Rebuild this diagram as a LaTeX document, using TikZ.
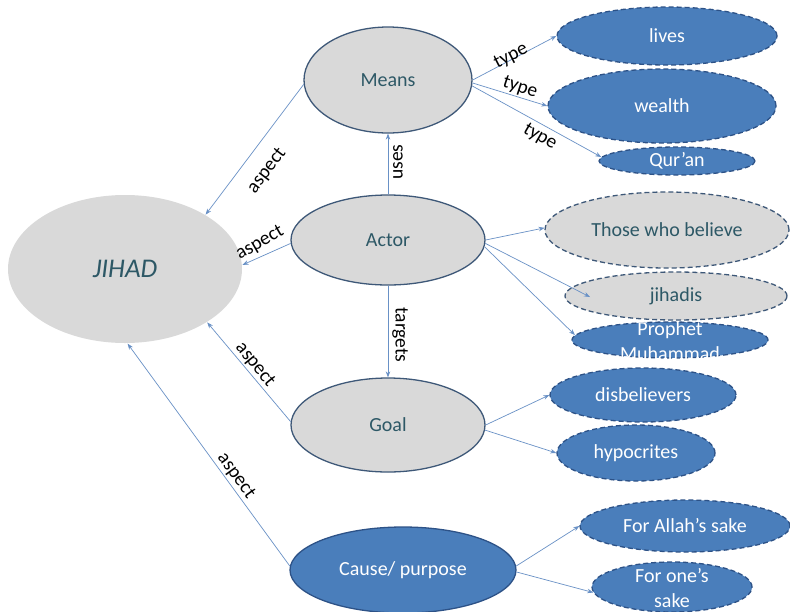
\documentclass[tikz,border=0pt]{standalone}
\usepackage{fontspec}
\setmainfont{Carlito}
\usetikzlibrary{shapes.geometric,arrows.meta}
\definecolor{grayfill}{RGB}{217,217,217}
\definecolor{bluefill}{RGB}{74,126,187}
\definecolor{blueline}{RGB}{45,82,135}
\definecolor{grayline}{RGB}{62,88,120}
\definecolor{txtteal}{RGB}{45,88,102}
\definecolor{edgecol}{RGB}{105,145,198}
\begin{document}
\begin{tikzpicture}[x=1pt,y=-1pt,
  ell/.style={ellipse, inner sep=0pt, line width=1.3pt},
  nodefont/.style={font=\fontsize{20}{25}\selectfont},
  graynode/.style={ell, fill=grayfill, draw=grayline, text=txtteal, nodefont},
  graydash/.style={graynode, dash pattern=on 5pt off 3pt},
  bluesolid/.style={ell, fill=bluefill, draw=blueline, text=white, nodefont},
  bluedash/.style={bluesolid, dash pattern=on 5pt off 3pt},
  bluetext/.style={text=white, nodefont, align=center, inner sep=0pt},
  arr/.style={draw=edgecol, line width=0.7pt, -{Stealth[length=6pt,width=4.5pt]}},
  lbl/.style={font=\fontsize{19.5}{20}\selectfont, text=black, inner sep=0pt}
]
\fill[white] (0,0) rectangle (790,611);
\useasboundingbox (0,0) rectangle (790,611);

% main nodes
\node[graynode, draw=none, minimum width=234pt, minimum height=148pt,
      font=\fontsize{27}{30}\selectfont\itshape] (jihad) at (125,269) {JIHAD};
\node[graynode, minimum width=168pt, minimum height=106pt] (means) at (388,80) {Means};
\node[graynode, minimum width=194pt, minimum height=90pt] (actor) at (388,240) {Actor};
\node[graynode, minimum width=194pt, minimum height=94pt] (goal) at (388,425) {Goal};
\node[bluesolid, minimum width=226pt, minimum height=86pt] (cause) at (403,570) {Cause/ purpose};

% right column
\node[bluedash, minimum width=220pt, minimum height=58pt] (lives) at (667,36) {lives};
\node[bluedash, minimum width=228pt, minimum height=74pt] (wealth) at (662,106) {wealth};
\node[bluedash, minimum width=156pt, minimum height=28pt] (quran) at (677,161) {Qur’an};
\node[graydash, minimum width=244pt, minimum height=76pt] (those) at (667,230) {Those who believe};
\node[graydash, minimum width=222pt, minimum height=48pt] (jihadis) at (676,296) {jihadis};
\node[bluedash, minimum width=196pt, minimum height=36pt] (prophet) at (670,340) {};
\node[bluetext] (prophettxt) at (670,341) {Prophet\\Muhammad};
\node[bluedash, minimum width=186pt, minimum height=54pt] (disb) at (643,395) {disbelievers};
\node[bluedash, minimum width=158pt, minimum height=56pt] (hypo) at (636,453) {hypocrites};
\node[bluedash, minimum width=210pt, minimum height=52pt] (allah) at (685,526) {For Allah’s sake};
\node[bluedash, minimum width=160pt, minimum height=50pt] (ones) at (672,587) {};
\node[bluetext] (onestxt) at (672,588) {For one’s\\sake};

% connectors
\draw[arr] (means.183) -- (jihad.34);
\draw[arr] (actor.182) -- (jihad.2);
\draw[arr] (goal.178) -- (jihad.-33);
\draw[arr] (cause.178) -- (jihad.-88);
\draw[arr] (actor.90) -- (means.270);
\draw[arr] (actor.270) -- (goal.90);
\draw[arr] (means.0) -- (lives.180);
\draw[arr] (means.-2) -- (wealth.180);
\draw[arr] (means.-4) -- (quran.177);
\draw[arr] (actor.0) -- (those.179);
\coordinate (jtip) at (590,297);
\draw[arr] (actor.-2) -- (jtip);
\draw[arr] (actor.-4) -- (prophet.177);
\draw[arr] (goal.0) -- (disb.180);
\draw[arr] (goal.-3) -- (hypo.180);
\draw[arr] (cause.2) -- (allah.180);
\draw[arr] (cause.-1) -- (ones.184);

% labels
\node[lbl, rotate=53] (l1) at (267,171) {aspect};
\node[lbl, rotate=30] (l2) at (260,243) {aspect};
\node[lbl, rotate=-51] (l3) at (255,365) {aspect};
\node[lbl, rotate=-54] (l4) at (236,476) {aspect};
\node[lbl, rotate=90] (l5) at (398,162) {uses};
\node[lbl, rotate=-90] (l6) at (400,335) {targets};
\node[lbl, rotate=27] (l7) at (511,56) {type};
\node[lbl, rotate=-18] (l8) at (520,88) {type};
\node[lbl, rotate=-30] (l9) at (540,137) {type};
\end{tikzpicture}
\end{document}
